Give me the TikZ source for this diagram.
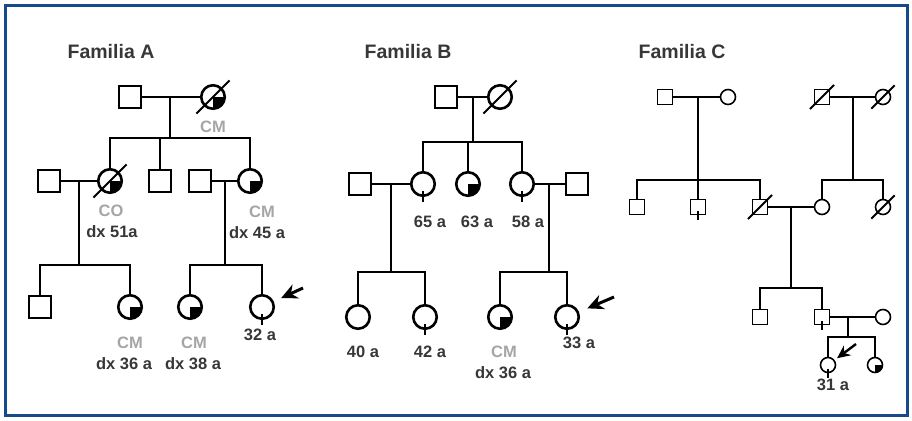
\documentclass[tikz,border=0pt]{standalone}
\usepackage{fontspec}
\setmainfont{Liberation Sans}
\usetikzlibrary{calc,arrows.meta}
\definecolor{framecol}{RGB}{22,74,140}
\definecolor{txtcol}{RGB}{55,55,55}
\definecolor{cmcol}{RGB}{165,165,165}
\tikzset{every picture/.style={x=1pt,y=-1pt}}
\tikzset{ind/.style={draw,line width=2.6pt,inner sep=0pt,minimum size=22}}
\tikzset{male/.style={ind,rectangle}}
\tikzset{female/.style={ind,circle,minimum size=23.5}}
\tikzset{small/.style={line width=1.6pt,minimum size=15}}
\tikzset{quart/.style={path picture={\fill (path picture bounding box.center) rectangle (path picture bounding box.south east);}}}
\tikzset{line/.style={line width=2.6pt}}
\tikzset{thinline/.style={line width=1.6pt}}
\tikzset{tick/.style={line width=1.3pt}}
\tikzset{slash/.style={line width=2pt}}
\tikzset{proband/.style={line width=3pt,-{Stealth[length=16pt,width=15pt]}}}
\tikzset{title/.style={text=txtcol,font=\fontsize{19.5}{21}\selectfont\bfseries}}
\tikzset{age/.style={text=txtcol,font=\fontsize{16.5}{18}\selectfont\bfseries,inner sep=0pt}}
\tikzset{cmlabel/.style={age,text=cmcol}}

\begin{document}
\begin{tikzpicture}
\useasboundingbox (0,0) rectangle (912,420);
\draw [framecol,line width=3pt] (5,5.5) rectangle (907,415);

%% Familia A
\node [title] (tA) at (111,52) {Familia A};
\node [male] (aF) at (130,97) {};
\node [female,quart] (aM) at (213,97) {};
\coordinate (aU) at (170,97);
\coordinate (aS0) at (170,138);

\node [male] (aH1) at (49,181) {};
\node [female,quart] (aW1) at (110,181) {};
\node [male] (aS) at (160,181) {};
\node [male] (aH2) at (200,181) {};
\node [female,quart] (aW2) at (250,181) {};
\coordinate (aU1) at (79,181);
\coordinate (aS1) at (79,265);
\coordinate (aU2) at (225,181);
\coordinate (aS2) at (225,265);

\node [male] (aC1) at (40,307) {};
\node [female,quart] (aC2) at (130,307) {};
\node [female,quart] (aC3) at (190,307) {};
\node [female] (aC4) at (262,307) {};
\coordinate (pA) at (303,288);

\draw [line] (aF) -- (aM);
\draw [line] (aU) -- (aS0);
\draw [line] (aS0) -| (aW1);
\draw [line] (aS0) -| (aS);
\draw [line] (aS0) -| (aW2);

\draw [line] (aH1) -- (aW1);
\draw [line] (aU1) -- (aS1);
\draw [line] (aS1) -| (aC1);
\draw [line] (aS1) -| (aC2);

\draw [line] (aH2) -- (aW2);
\draw [line] (aU2) -- (aS2);
\draw [line] (aS2) -| (aC3);
\draw [line] (aS2) -| (aC4);

\draw [proband,shorten >=8pt] (pA) -- (aC4);

\node [cmlabel] (aL1) at (213,127) {CM};
\node [cmlabel] (aL2) at (111,211) {CO};
\node [age] (aL3) at (112,232) {dx 51a};
\node [cmlabel] (aL4) at (262,212) {CM};
\node [age] (aL5) at (257,233) {dx 45 a};
\node [cmlabel] (aL6) at (130,343) {CM};
\node [age] (aL7) at (124,364) {dx 36 a};
\node [cmlabel] (aL8) at (194,343) {CM};
\node [age] (aL9) at (193,364) {dx 38 a};
\node [age] (aL10) at (260,335) {32 a};

%% Familia B
\node [title] (tB) at (408,52) {Familia B};
\node [male] (bF) at (446,97) {};
\node [female] (bM) at (500,97) {};
\coordinate (bU) at (473,97);
\coordinate (bS0) at (473,142);

\node [male] (bH1) at (360,184) {};
\node [female] (bW1) at (423,184) {};
\node [female,quart] (bW2) at (468,184) {};
\node [female] (bW3) at (522,184) {};
\node [male] (bH3) at (577,184) {};
\coordinate (bU1) at (391,184);
\coordinate (bS1) at (391,272);
\coordinate (bU3) at (549,184);
\coordinate (bS3) at (549,272);

\node [female] (bC1) at (358,317) {};
\node [female] (bC2) at (425,317) {};
\node [female,quart] (bC3) at (500,317) {};
\node [female] (bC4) at (567,317) {};
\coordinate (pB) at (614,297);

\draw [line] (bF) -- (bM);
\draw [line] (bU) -- (bS0);
\draw [line] (bS0) -| (bW1);
\draw [line] (bS0) -| (bW2);
\draw [line] (bS0) -| (bW3);

\draw [line] (bH1) -- (bW1);
\draw [line] (bU1) -- (bS1);
\draw [line] (bS1) -| (bC1);
\draw [line] (bS1) -| (bC2);

\draw [line] (bW3) -- (bH3);
\draw [line] (bU3) -- (bS3);
\draw [line] (bS3) -| (bC3);
\draw [line] (bS3) -| (bC4);

\draw [proband,shorten >=9pt] (pB) -- (bC4);

\node [age] (bL1) at (430,222) {65 a};
\node [age] (bL2) at (477,222) {63 a};
\node [age] (bL3) at (528,222) {58 a};
\node [age] (bL4) at (363,352) {40 a};
\node [age] (bL5) at (430,352) {42 a};
\node [cmlabel] (bL6) at (504,352) {CM};
\node [age] (bL7) at (503,373) {dx 36 a};
\node [age] (bL8) at (579,343) {33 a};

%% Familia C
\node [title] (tC) at (682,52) {Familia C};
\node [male,small] (cF1) at (665,97) {};
\node [female,small] (cM1) at (728,97) {};
\node [male,small] (cF2) at (822,97) {};
\node [female,small] (cM2) at (883,97) {};
\coordinate (cU1) at (698,97);
\coordinate (cS1) at (698,180);
\coordinate (cU2) at (853,97);
\coordinate (cS2) at (853,180);

\node [male,small] (cA) at (637,207) {};
\node [male,small] (cB) at (698,207) {};
\node [male,small] (cC) at (760,207) {};
\node [female,small] (cD) at (822,207) {};
\node [female,small] (cE) at (883,207) {};
\coordinate (cU3) at (791,207);
\coordinate (cS3) at (791,288);

\node [male,small] (cG) at (760,317) {};
\node [male,small] (cH) at (822,317) {};
\node [female,small] (cI) at (883,317) {};
\coordinate (cU4) at (848,317);
\coordinate (cS4) at (848,337);

\node [female,small] (cJ) at (828,365) {};
\node [female,small,quart] (cK) at (875,365) {};
\coordinate (pC) at (856,344);

\draw [thinline] (cF1) -- (cM1);
\draw [thinline] (cU1) -- (cS1);
\draw [thinline] (cS1) -| (cA);
\draw [thinline] (cS1) -- (cB);
\draw [thinline] (cS1) -| (cC);

\draw [thinline] (cF2) -- (cM2);
\draw [thinline] (cU2) -- (cS2);
\draw [thinline] (cS2) -| (cD);
\draw [thinline] (cS2) -| (cE);

\draw [thinline] (cC) -- (cD);
\draw [thinline] (cU3) -- (cS3);
\draw [thinline] (cS3) -| (cG);
\draw [thinline] (cS3) -| (cH);

\draw [thinline] (cH) -- (cI);
\draw [thinline] (cU4) -- (cS4);
\draw [thinline] (cS4) -| (cJ);
\draw [thinline] (cS4) -| (cK);

\draw [proband,line width=2.4pt,-{Stealth[length=13pt,width=12pt]},shorten >=3pt] (pC) -- (cJ);

\node [age] (cL1) at (833,385) {31 a};

%% deceased
\foreach \n/\f in {aM/1.8,aW1/1.8,bM/1.8,cF2/1.45,cM2/2,cC/1.45,cE/2}
  \draw [slash] ($(\n.center)!\f!(\n.225)$) -- ($(\n.center)!\f!(\n.45)$);

%% carriers
\foreach \n in {aC4,bW1,bW3,bC2,bC4}
  \draw [tick] ($(\n.south)+(0,-6)$) -- ($(\n.south)+(0,5)$);
\foreach \n in {cB,cH,cJ}
  \draw [tick] ($(\n.south)+(0,-4)$) -- ($(\n.south)+(0,5)$);
\end{tikzpicture}
\end{document}
